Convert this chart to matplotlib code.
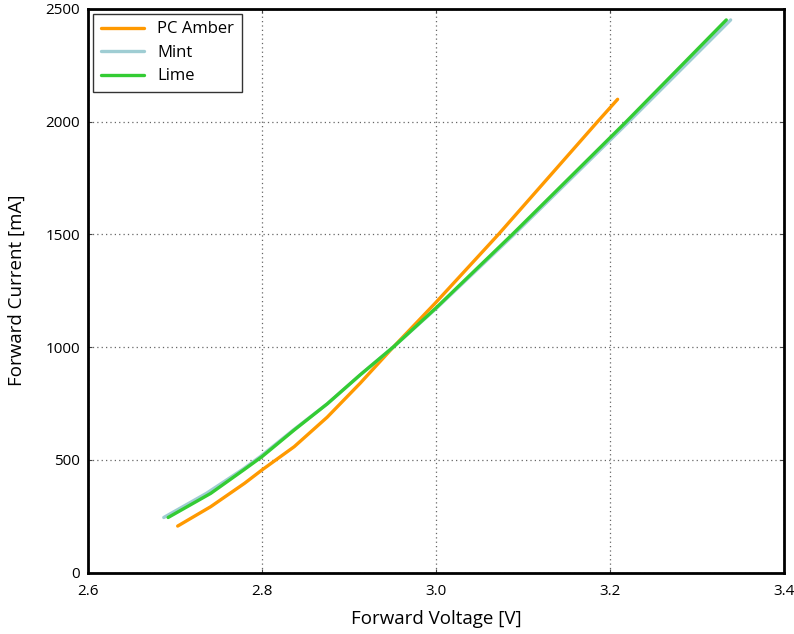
import matplotlib.pyplot as plt

plt.rcParams['font.family'] = ['Open Sans', 'DejaVu Sans']

# PC Amber
v_amber = [2.703, 2.741, 2.780, 2.80, 2.837, 2.875, 2.913, 2.951, 3.0, 3.072, 3.186, 3.209]
i_amber = [206, 292, 396, 455, 558, 689, 840, 1000, 1198, 1500, 2000, 2099]

# Mint
v_mint = [2.687, 2.736, 2.778, 2.798, 2.836, 2.875, 2.913, 2.951, 3.0, 3.090, 3.222, 3.339]
i_mint = [244, 351, 458, 514, 632, 748, 877, 1000, 1170, 1500, 2000, 2451]

# Lime
v_lime = [2.692, 2.741, 2.780, 2.80, 2.837, 2.875, 2.913, 2.951, 3.0, 3.088, 3.219, 3.334]
i_lime = [244, 351, 458, 514, 632, 748, 877, 1000, 1173, 1500, 2000, 2451]

fig = plt.figure(figsize=(7.94, 6.34), dpi=100)
ax = fig.add_axes([0.111, 0.097, 0.876, 0.889])

ax.plot(v_amber, i_amber, color='#ff9900', lw=2.4, label='PC Amber', solid_capstyle='round')
ax.plot(v_mint, i_mint, color='#9fcdd3', lw=2.4, label='Mint', solid_capstyle='round')
ax.plot(v_lime, i_lime, color='#33cc33', lw=2.4, label='Lime', solid_capstyle='round')

ax.set_xlim(2.6, 3.4)
ax.set_ylim(0, 2500)
ax.set_xticks([2.6, 2.8, 3.0, 3.2, 3.4])
ax.set_xticklabels(['2.6', '2.8', '3.0', '3.2', '3.4'])
ax.set_yticks([0, 500, 1000, 1500, 2000, 2500])
ax.tick_params(direction='in', length=3, labelsize=11, top=True, right=True, color='#444444')
ax.tick_params(axis='x', pad=8)
ax.tick_params(axis='y', pad=6)
ax.grid(True, linestyle=(0, (1, 2.5)), color='#666666', lw=0.9)

for s in ax.spines.values():
    s.set_linewidth(2)
    s.set_color('black')

ax.set_xlabel('Forward Voltage [V]', fontsize=13.5, labelpad=8)
ax.set_ylabel('Forward Current [mA]', fontsize=13.5, labelpad=14)

leg = ax.legend(loc='upper left', fontsize=12, fancybox=False, framealpha=1,
                edgecolor='#333333', borderaxespad=0.3, handlelength=2.6,
                borderpad=0.45, labelspacing=0.45, handletextpad=0.8)
leg.get_frame().set_linewidth(1.0)

fig.savefig('out.png', dpi=100)
